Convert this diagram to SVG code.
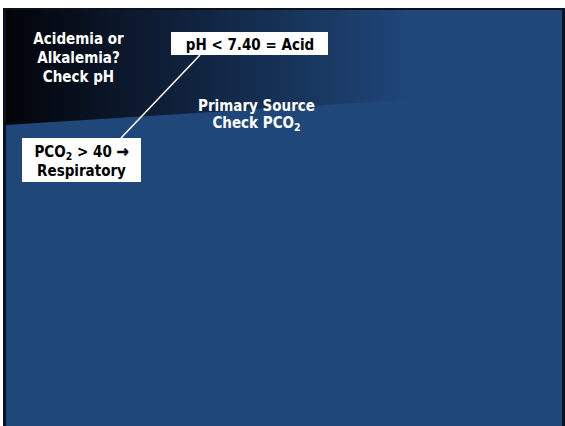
<svg xmlns="http://www.w3.org/2000/svg" width="565" height="426" viewBox="0 0 565 426">
  <defs>
    <linearGradient id="topShade" gradientUnits="userSpaceOnUse" x1="6" y1="0" x2="410" y2="0">
      <stop offset="0" stop-color="#020408"/>
      <stop offset="0.3" stop-color="#0c182c"/>
      <stop offset="1" stop-color="#1f477a"/>
    </linearGradient>
    <style>
      .lbl { font-family: "DejaVu Sans Condensed", "DejaVu Sans", Verdana, sans-serif; font-weight: bold; font-size: 15px; text-anchor: middle; }
      .light { fill: #ffffff; }
      .dark { fill: #000000; }
      .box { fill: #ffffff; stroke: none; }
      .link { stroke: #ffffff; stroke-width: 1.5; fill: none; }
      .arrow { font-size: 16px; stroke: #000000; stroke-width: 0.6; }
    </style>
  </defs>

  <!-- page and slide frame -->
  <rect x="0" y="0" width="565" height="426" fill="#ffffff"/>
  <rect x="3" y="8" width="562" height="418" fill="#0a1220"/>
  <rect x="6" y="10" width="556" height="416" fill="#1f477a"/>
  <!-- dark swoosh across the top -->
  <polygon points="6,10 562,10 562,90 6,125" fill="url(#topShade)"/>

  <!-- connectors -->
  <g id="connectors">
    <line class="link" x1="200" y1="55" x2="121" y2="138"/>
  </g>

  <g id="step-check-ph">
    <text class="lbl light" x="78.5" y="43.5">Acidemia or</text>
    <text class="lbl light" x="78.5" y="62.5">Alkalemia?</text>
    <text class="lbl light" x="78.5" y="82">Check pH</text>
  </g>

  <g id="result-acid">
    <rect class="box" x="171" y="32" width="157" height="23"/>
    <text class="lbl dark" x="250" y="49.5" font-size="15.5">pH &lt; 7.40 = Acid</text>
  </g>

  <g id="step-primary-source">
    <text class="lbl light" x="256.5" y="111">Primary Source</text>
    <text class="lbl light" x="256.5" y="128">Check PCO<tspan font-size="10.5px" dy="3">2</tspan></text>
  </g>

  <g id="result-respiratory">
    <rect class="box" x="22" y="138" width="119" height="44"/>
    <text class="lbl dark" x="81.5" y="157">PCO<tspan font-size="10.5px" dy="3">2</tspan><tspan dy="-3"> &gt; 40 </tspan><tspan class="arrow">→</tspan></text>
    <text class="lbl dark" x="81.5" y="175.5">Respiratory</text>
  </g>
</svg>
